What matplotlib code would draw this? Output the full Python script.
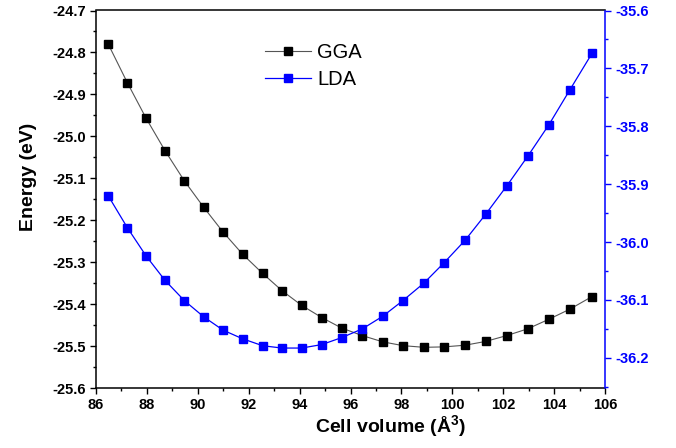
import numpy as np
import matplotlib
matplotlib.use("Agg")
import matplotlib.pyplot as plt
from matplotlib.ticker import MultipleLocator

plt.rcParams['font.family'] = ['Liberation Sans', 'DejaVu Sans']
plt.rcParams['mathtext.fontset'] = 'custom'
plt.rcParams['mathtext.rm'] = 'Liberation Sans'
plt.rcParams['mathtext.bf'] = 'Liberation Sans:bold'

## DATA
volume = [86.48, 87.23, 87.97, 88.71, 89.47, 90.23, 90.99, 91.76, 92.55,
          93.31, 94.08, 94.87, 95.65, 96.46, 97.27, 98.06, 98.88, 99.67,
          100.50, 101.31, 102.14, 102.96, 103.80, 104.62, 105.49]

e_gga = [-24.780, -24.872, -24.957, -25.034, -25.106, -25.169, -25.228,
         -25.281, -25.327, -25.368, -25.403, -25.432, -25.457, -25.475,
         -25.490, -25.499, -25.503, -25.502, -25.498, -25.489, -25.475,
         -25.459, -25.436, -25.412, -25.382]

e_lda = [-35.920, -35.975, -36.024, -36.066, -36.101, -36.129, -36.152,
         -36.167, -36.179, -36.183, -36.183, -36.177, -36.165, -36.150,
         -36.128, -36.101, -36.071, -36.036, -35.997, -35.952, -35.903,
         -35.852, -35.797, -35.737, -35.674]

#%%
fig = plt.figure(figsize=(6.76, 4.48), dpi=100)
ax = fig.add_axes([96/676, 1 - 388/448, 509/676, 377.5/448])
ax2 = ax.twinx()

l1, = ax.plot(volume, e_gga, color='#555555', lw=0.8, marker='s', ms=5.2,
              mfc='black', mec='black', label='GGA')
l2, = ax2.plot(volume, e_lda, color='blue', lw=0.9, marker='s', ms=5.2,
               mfc='blue', mec='blue', label='LDA')

ax.set_xlim(86, 106)
ax.set_ylim(-25.6, -24.7)
ax2.set_ylim(-36.252, -35.6)

ax.xaxis.set_major_locator(MultipleLocator(2))
ax.xaxis.set_minor_locator(MultipleLocator(1))
ax.yaxis.set_major_locator(MultipleLocator(0.1))
ax.yaxis.set_minor_locator(MultipleLocator(0.05))
ax2.yaxis.set_major_locator(MultipleLocator(0.1))
ax2.yaxis.set_minor_locator(MultipleLocator(0.05))

ax.yaxis.set_major_formatter(plt.FuncFormatter(lambda v, p: '%.1f' % v))
ax2.yaxis.set_major_formatter(plt.FuncFormatter(lambda v, p: '%.1f' % v))

for a in (ax, ax2):
    for s in a.spines.values():
        s.set_linewidth(1.1)
ax.spines['right'].set_visible(False)
ax2.spines['right'].set_color('blue')
ax2.spines['left'].set_visible(False)
ax2.spines['top'].set_visible(False)
ax2.spines['bottom'].set_visible(False)

ax.tick_params(which='major', direction='out', length=4, width=1,
               labelsize=10.5, top=False, right=False)
ax.tick_params(which='minor', direction='out', length=2.5, width=1,
               top=False, right=False)
ax2.tick_params(which='major', direction='out', length=4, width=1,
                labelsize=10.5, colors='blue')
ax2.tick_params(which='minor', direction='out', length=2.5, width=1,
                colors='blue')
for lab in ax.get_xticklabels() + ax.get_yticklabels() + ax2.get_yticklabels():
    lab.set_fontweight('bold')

ax.set_xlabel(r'Cell volume (Å$^{\mathbf{3}}$)', fontsize=14, fontweight='bold')
ax.set_ylabel('Energy (eV)', fontsize=14, fontweight='bold')
ax.xaxis.set_label_coords(0.578, -0.067)
ax.yaxis.set_label_coords(-0.115, 0.56)

ax.legend(handles=[l1, l2], loc='upper left', bbox_to_anchor=(0.332, 0.915),
          frameon=False, fontsize=14.5, handlelength=2.3, handletextpad=0.3,
          labelspacing=0.4, borderpad=0, borderaxespad=0)

fig.savefig('out.png', dpi=100)
